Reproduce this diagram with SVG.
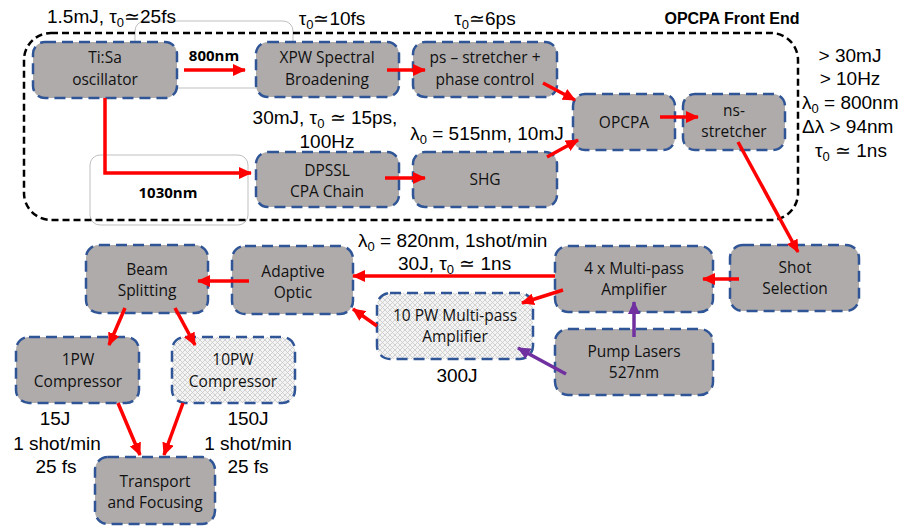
<svg xmlns="http://www.w3.org/2000/svg" width="904" height="527" viewBox="0 0 904 527">
<style>
.box{fill:#AFABAB;stroke:#2F5597;stroke-width:2.5;stroke-dasharray:11 6}
.hatch{fill:url(#xh);stroke:#2F5597;stroke-width:2.5;stroke-dasharray:11 6}
.nt{font-family:"Open Sans",sans-serif;font-size:15.5px;fill:#111;text-anchor:middle}
.lb{font-family:"Liberation Sans",Arial,sans-serif;font-size:19px;fill:#000}
.mid{text-anchor:middle}
.bold{font-family:"Open Sans",sans-serif;font-weight:bold;font-size:15px;fill:#000;text-anchor:middle}
.red{stroke:#FF0000;stroke-width:3.5;fill:none;marker-end:url(#ar)}
.pur{stroke:#7030A0;stroke-width:3.5;fill:none;marker-end:url(#ap)}
.thin{fill:none;stroke:#BFBFBF;stroke-width:1}
</style>
<defs>
<pattern id="xh" width="5" height="5" patternUnits="userSpaceOnUse">
<rect width="5" height="5" fill="#F4F4F4"/>
<path d="M0,0L5,5M5,0L0,5" stroke="#C8C8C8" stroke-width="0.8"/>
</pattern>
<marker id="ar" markerUnits="userSpaceOnUse" markerWidth="14" markerHeight="12" refX="12" refY="6" orient="auto">
<path d="M0,0L13,6L0,12z" fill="#FF0000"/>
</marker>
<marker id="ap" markerUnits="userSpaceOnUse" markerWidth="14" markerHeight="12" refX="12" refY="6" orient="auto">
<path d="M0,0L13,6L0,12z" fill="#7030A0"/>
</marker>
</defs>
<rect width="904" height="527" fill="#fff"/>

<g id="frames">
<rect class="thin" x="135" y="21" width="158" height="67" rx="10"/>
<rect class="thin" x="90" y="155" width="158" height="70" rx="10"/>
<rect x="24" y="33" width="774" height="187" rx="27" fill="none" stroke="#000" stroke-width="2.5" stroke-dasharray="7 4"/>
<text x="732" y="24" font-family="Liberation Sans,Arial,sans-serif" font-weight="bold" font-size="16" text-anchor="middle">OPCPA Front End</text>
</g>

<g id="labels" class="lb">
<text x="47" y="23">1.5mJ, τ<tspan font-size="13" dy="4">0</tspan><tspan dy="-4">≃25fs</tspan></text>
<text x="332" y="25" class="mid">τ<tspan font-size="13" dy="4">0</tspan><tspan dy="-4">≃10fs</tspan></text>
<text x="485" y="25" class="mid">τ<tspan font-size="13" dy="4">0</tspan><tspan dy="-4">≃6ps</tspan></text>
<text x="325" y="124" class="mid">30mJ, τ<tspan font-size="13" dy="4">0</tspan><tspan dy="-4"> ≃ 15ps,</tspan></text>
<text x="327" y="148" class="mid">100Hz</text>
<text x="487" y="140" class="mid">λ<tspan font-size="13" dy="4">0</tspan><tspan dy="-4"> = 515nm, 10mJ</tspan></text>
<text x="850" y="62" class="mid">&gt; 30mJ</text>
<text x="850" y="85" class="mid">&gt; 10Hz</text>
<text x="802" y="109">λ<tspan font-size="13" dy="4">0</tspan><tspan dy="-4"> = 800nm</tspan></text>
<text x="802" y="133">Δλ &gt; 94nm</text>
<text x="815" y="157">τ<tspan font-size="13" dy="4">0</tspan><tspan dy="-4"> ≃ 1ns</tspan></text>
<text x="358" y="247">λ<tspan font-size="13" dy="4">0</tspan><tspan dy="-4"> = 820nm, 1shot/min</tspan></text>
<text x="398" y="270">30J, τ<tspan font-size="13" dy="4">0</tspan><tspan dy="-4"> ≃ 1ns</tspan></text>
<text x="457" y="382" class="mid">300J</text>
<text x="55" y="425" class="mid">15J</text>
<text x="57" y="450" class="mid">1 shot/min</text>
<text x="56" y="473" class="mid">25 fs</text>
<text x="248" y="425" class="mid">150J</text>
<text x="248" y="450" class="mid">1 shot/min</text>
<text x="248" y="473" class="mid">25 fs</text>
</g>

<g id="tisa"><rect class="box" x="33" y="42" width="144" height="56" rx="12"/><text class="nt" x="105" y="63">Ti:Sa</text><text class="nt" x="105" y="85">oscillator</text></g>
<g id="xpw"><rect class="box" x="256" y="42" width="143" height="55" rx="12"/><text class="nt" x="327" y="63">XPW Spectral</text><text class="nt" x="327" y="85">Broadening</text></g>
<g id="psstretcher"><rect class="box" x="413" y="42" width="144" height="55" rx="12"/><text class="nt" x="485" y="63">ps – stretcher +</text><text class="nt" x="485" y="85">phase control</text></g>
<g id="dpssl"><rect class="box" x="256" y="152" width="143" height="55" rx="12"/><text class="nt" x="327" y="176">DPSSL</text><text class="nt" x="327" y="197">CPA Chain</text></g>
<g id="shg"><rect class="box" x="413" y="152" width="144" height="55" rx="12"/><text class="nt" x="485" y="185">SHG</text></g>
<g id="opcpa"><rect class="box" x="573" y="94" width="102" height="56" rx="12"/><text class="nt" x="624" y="128">OPCPA</text></g>
<g id="nsstretcher"><rect class="box" x="683" y="94" width="102" height="56" rx="12"/><text class="nt" x="734" y="116">ns-</text><text class="nt" x="734" y="137">stretcher</text></g>
<g id="shotsel"><rect class="box" x="730" y="245" width="129" height="66" rx="13"/><text class="nt" x="795" y="273">Shot</text><text class="nt" x="795" y="294">Selection</text></g>
<g id="amp4x"><rect class="box" x="555" y="246" width="158" height="66" rx="13"/><text class="nt" x="634" y="274">4 x Multi-pass</text><text class="nt" x="634" y="295">Amplifier</text></g>
<g id="pump"><rect class="box" x="555" y="329" width="158" height="66" rx="13"/><text class="nt" x="634" y="357">Pump Lasers</text><text class="nt" x="634" y="378">527nm</text></g>
<g id="amp10pw"><rect class="hatch" x="377" y="293" width="156" height="66" rx="13"/><text class="nt" x="455" y="321">10 PW Multi-pass</text><text class="nt" x="455" y="342">Amplifier</text></g>
<g id="adaptive"><rect class="box" x="232" y="246" width="121" height="68" rx="13"/><text class="nt" x="293" y="277">Adaptive</text><text class="nt" x="293" y="298">Optic</text></g>
<g id="beamsplit"><rect class="box" x="86" y="245" width="122" height="68" rx="13"/><text class="nt" x="147" y="275">Beam</text><text class="nt" x="147" y="296">Splitting</text></g>
<g id="comp1pw"><rect class="box" x="16" y="337" width="123" height="66" rx="13"/><text class="nt" x="78" y="365">1PW</text><text class="nt" x="78" y="387">Compressor</text></g>
<g id="comp10pw"><rect class="hatch" x="172" y="337" width="123" height="66" rx="13"/><text class="nt" x="233" y="365">10PW</text><text class="nt" x="233" y="387">Compressor</text></g>
<g id="transport"><rect class="box" x="95" y="457" width="120" height="67" rx="13"/><text class="nt" x="155" y="487">Transport</text><text class="nt" x="155" y="508">and Focusing</text></g>

<g id="connectors">
<path class="red" d="M184,70H245"/>
<path class="red" d="M105,98V173H251"/>
<path class="red" d="M387,70H425"/>
<path class="red" d="M385,178H425"/>
<path class="red" d="M543,83L575,100"/>
<path class="red" d="M547,157L578,140"/>
<path class="red" d="M660,117H698"/>
<path class="red" d="M738,142L798,252"/>
<path class="red" d="M739,279H703"/>
<path class="red" d="M555,276H353"/>
<path class="red" d="M563,290L522,303"/>
<path class="red" d="M377,326L353,309"/>
<path class="red" d="M249,281H198"/>
<path class="red" d="M125,308L109,345"/>
<path class="red" d="M175,308L195,345"/>
<path class="red" d="M118,403L140,455"/>
<path class="red" d="M183,403L164,455"/>
<path class="pur" d="M634,337V302"/>
<path class="pur" d="M566,374L518,348"/>
</g>
<text class="bold" x="214" y="61">800nm</text>
<text class="bold" x="168" y="198">1030nm</text>
</svg>
